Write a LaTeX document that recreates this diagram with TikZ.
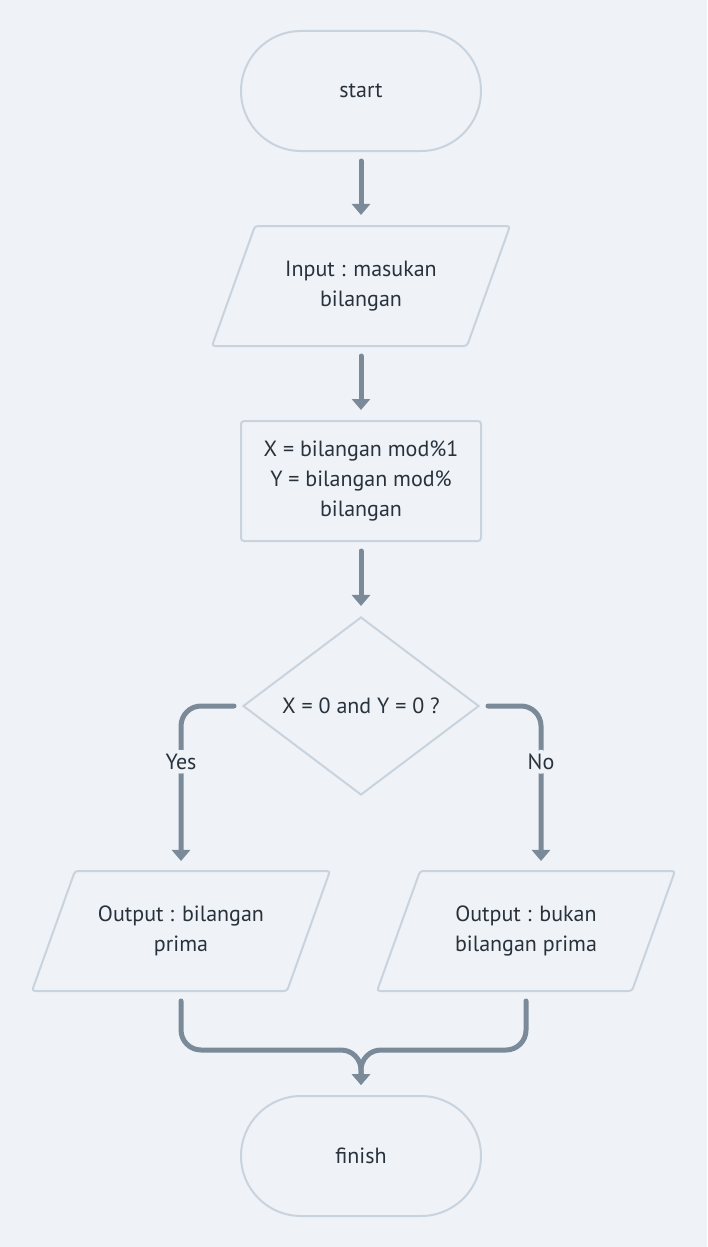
\documentclass[tikz,border=0pt]{standalone}
\usepackage{fontspec}
\setmainfont{PT Sans}
\usetikzlibrary{shapes.geometric,arrows.meta,calc}

\definecolor{bg}{RGB}{239,243,247}
\definecolor{edge}{RGB}{201,211,222}
\definecolor{conn}{RGB}{123,138,153}
\definecolor{ink}{RGB}{40,50,60}

\tikzset{
  box/.style={draw=edge, line width=2pt, text=ink, align=center, font=\fontsize{22}{30}\selectfont},
  term/.style={box, rectangle, rounded corners=60pt, minimum width=240pt, minimum height=120pt},
  proc/.style={box, rectangle, rounded corners=3pt, minimum width=240pt, minimum height=120pt},
  io/.style={box, trapezium, trapezium left angle=70, trapezium right angle=110, trapezium stretches body,
    minimum width=298pt, minimum height=120pt, inner ysep=34pt, inner xsep=0pt, rounded corners=3pt},
  decide/.style={box, diamond, minimum width=236pt, minimum height=178pt, inner sep=0pt, aspect=1.33},
  line/.style={draw=conn, line width=5pt, line cap=round, rounded corners=20pt,
    -{Triangle[width=18pt,length=11pt]}},
  lbl/.style={fill=bg, text=ink, font=\fontsize{22}{24}\selectfont, inner sep=4pt}
}

\begin{document}
\begin{tikzpicture}[x=1pt,y=-1pt]
		\fill[bg] (0,0) rectangle (707,1247);
		\useasboundingbox (0,0) rectangle (707,1247);
		
		% shapes
		\node[term] (start) at (361,91) {start};
		\node[io] (input) at (361,286) {Input : masukan\\bilangan};
		\node[proc] (calc) at (361,481) {X = bilangan mod\%1\\Y = bilangan mod\%\\bilangan};
		\node[decide] (check) at (361,706) {X = 0 and Y = 0 ?};
		\node[io] (prima) at (181,931) {Output : bilangan\\prima};
		\node[io] (bukan) at (526,931) {Output : bukan\\bilangan prima};
		\node[term] (finish) at (361,1156) {finish};
		\coordinate (noin) at ($(bukan.north)+(15,0)$);
		\coordinate (join) at (361,1050);
		
		% connectors
		\draw[line, shorten <=9pt, shorten >=10pt] (start) -- (input);
		\draw[line, shorten <=9pt, shorten >=10pt] (input) -- (calc);
		\draw[line, shorten <=9pt, shorten >=10pt] (calc) -- (check);
		\draw[line, shorten <=8pt, shorten >=9pt] (check.west) -| node[lbl, pos=0.67] {Yes} (prima.north);
		\draw[line, shorten <=8pt, shorten >=9pt] (check.east) -| node[lbl, pos=0.67] {No} (noin);
		\draw[line, shorten <=9pt, shorten >=10pt] (prima.south) |- (join) -- (finish.north);
		\draw[line, shorten <=9pt, shorten >=10pt] (bukan.south) |- (join) -- (finish.north);
		
\end{tikzpicture}
\end{document}
